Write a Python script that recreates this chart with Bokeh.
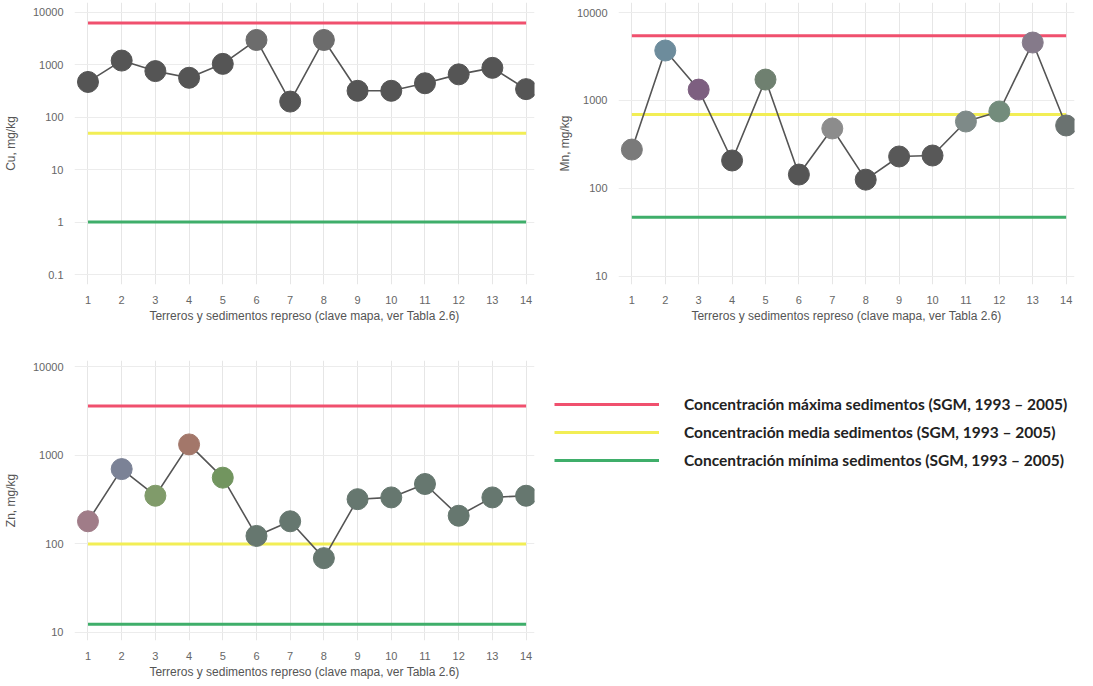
from bokeh.plotting import figure
from bokeh.models import Range1d, FixedTicker, CustomJSTickFormatter, Legend, LegendItem
from bokeh.layouts import column, row
from bokeh.embed import file_html
from bokeh.resources import INLINE

# ---- data ----
samples = list(range(1, 15))
cu = [466, 1190, 750, 560, 1030, 2940, 197, 2940, 316, 316, 440, 650, 865, 340]
mn = [277, 3700, 1330, 208, 1730, 144, 481, 126, 231, 237, 577, 750, 4560, 520]
zn = [180, 700, 350, 1330, 560, 123, 180, 69, 320, 335, 475, 208, 335, 350]

cu_ref = {"max": 6200, "media": 49, "min": 1.0}
mn_ref = {"max": 5450, "media": 695, "min": 47}
zn_ref = {"max": 3620, "media": 100, "min": 12.4}

y_ticks = [0.1, 1, 10, 100, 1000, 10000]
x_label = "Terreros y sedimentos represo (clave mapa, ver Tabla 2.6)"
legend_labels = [
    "Concentración máxima sedimentos (SGM, 1993 – 2005)",
    "Concentración media sedimentos (SGM, 1993 – 2005)",
    "Concentración mínima sedimentos (SGM, 1993 – 2005)",
]

# ---- styles ----
cu_colors = ["#555555"] * 5 + ["#6c6c6c", "#555555", "#6c6c6c"] + ["#555555"] * 6
mn_colors = ["#7a7a7a", "#6d8c9c", "#7d5f80", "#555555", "#6f8070", "#555555", "#8c8c8c",
             "#555555", "#585858", "#585858", "#7e8a88", "#738c7c", "#857a8a", "#6a7270"]
zn_colors = ["#a07c88", "#7b8296", "#809b6a", "#a3776a", "#72955f"] + ["#66776f"] * 9
REF_COLORS = {"max": "#f0506e", "media": "#f2ee55", "min": "#3fae6a"}
FONT = "Liberation Sans"

fmt = CustomJSTickFormatter(code="return tick < 1 ? tick.toString() : tick.toFixed(0);")


def make_panel(values, colors, refs, ylabel, yr, left, right, fw, top, bottom, fh,
               label_standoff):
    p = figure(frame_width=fw, frame_height=fh, min_border_left=left,
               min_border_right=right, min_border_top=top, min_border_bottom=bottom,
               x_range=Range1d(0.6, 14.25), y_range=Range1d(*yr), y_axis_type="log",
               output_backend="svg", toolbar_location=None)
    p.outline_line_color = None
    p.background_fill_color = "white"
    for ax in (p.xaxis[0], p.yaxis[0]):
        ax.axis_line_color = None
        ax.major_tick_line_color = None
        ax.minor_tick_line_color = None
        ax.major_label_text_font = FONT
        ax.major_label_text_font_size = "11px"
        ax.major_label_text_color = "#666666"
        ax.axis_label_text_font = FONT
        ax.axis_label_text_font_size = "12px"
        ax.axis_label_text_font_style = "normal"
        ax.axis_label_text_color = "#555555"
    p.xaxis.ticker = FixedTicker(ticks=samples)
    p.yaxis.ticker = FixedTicker(ticks=y_ticks)
    p.yaxis.formatter = fmt
    p.xaxis.axis_label = x_label
    p.xaxis.axis_label_standoff = 2
    p.yaxis.axis_label = ylabel
    p.yaxis.axis_label_standoff = label_standoff
    p.xgrid.grid_line_color = "#e6e6e6"
    p.ygrid.grid_line_color = "#ececec"
    rends = {}
    for key in ("max", "media", "min"):
        rends[key] = p.line(samples, [refs[key]] * len(samples), line_color=REF_COLORS[key],
                            line_width=3)
    p.line(samples, values, line_color="#555555", line_width=1.6)
    p.scatter(samples, values, size=21, fill_color=colors, line_color=colors)
    return p, rends


p1, _ = make_panel(cu, cu_colors, cu_ref, "Cu, mg/kg", (0.0645, 15200),
                   70, 20, 460, 2, 43, 282, 12)
p2, _ = make_panel(mn, mn_colors, mn_ref, "Mn, mg/kg", (8.1, 13000),
                   51, 10, 456, 2, 43, 282, 2)
p3, r3 = make_panel(zn, zn_colors, zn_ref, "Zn, mg/kg", (8.1, 11800),
                    70, 10, 460, 33, 30, 280, 12)

legend = Legend(items=[LegendItem(label=legend_labels[0], renderers=[r3["max"]]),
                       LegendItem(label=legend_labels[1], renderers=[r3["media"]]),
                       LegendItem(label=legend_labels[2], renderers=[r3["min"]])],
                location=(20, 170), orientation="vertical")
legend.glyph_width = 105
legend.glyph_height = 20
legend.label_height = 20
legend.label_standoff = 25
legend.spacing = 8
legend.padding = 5
legend.margin = 0
legend.border_line_color = None
legend.background_fill_alpha = 0
legend.label_text_font = "Lato"
legend.label_text_font_style = "bold"
legend.label_text_font_size = "15.5px"
legend.label_text_color = "#222222"
p3.add_layout(legend, "right")

layout = column(row(p1, p2), p3)
open("out.html", "w").write(file_html(layout, INLINE))
